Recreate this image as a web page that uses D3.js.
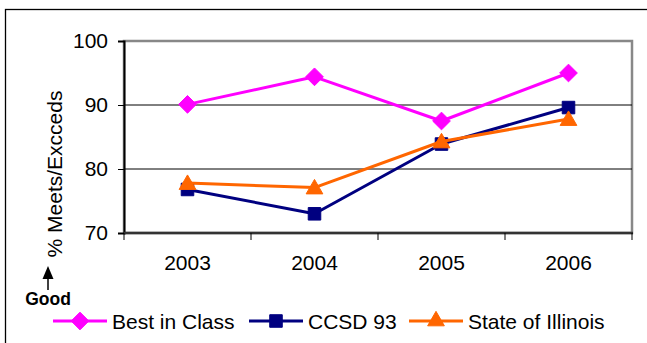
<!DOCTYPE html>
<html>
<head>
<meta charset="utf-8">
<script src="https://cdn.jsdelivr.net/npm/d3@7"></script>
<style>
  html, body { margin: 0; padding: 0; background: #fff; }
  svg { display: block; font-family: Arial, "Liberation Sans", sans-serif; }
</style>
</head>
<body>
<svg id="chart" width="647" height="343"></svg>
<script>
// Percentage of students who meet or exceed standards, by year
const years = ["2003", "2004", "2005", "2006"];
const bestInClass = [90.1, 94.4, 87.5, 95.0];
const ccsd93 = [76.8, 73.0, 83.9, 89.6];
const stateOfIllinois = [77.8, 77.1, 84.3, 87.8];
const yTicks = [70, 80, 90, 100];
const gridValues = [80, 90];

const series = [
  { name: "Best in Class", values: bestInClass, color: "#FF00FF", shape: "diamond" },
  { name: "CCSD 93", values: ccsd93, color: "#000080", shape: "square" },
  { name: "State of Illinois", values: stateOfIllinois, color: "#FF6600", shape: "triangle" }
];

const svg = d3.select("#chart");
const plot = { left: 124, right: 632, top: 41, bottom: 233 };

// outer frame
svg.append("rect")
  .attr("x", 5.5).attr("y", 9.5)
  .attr("width", 660).attr("height", 360)
  .attr("fill", "none").attr("stroke", "#000").attr("stroke-width", 1.3);

const x = d3.scaleBand().domain(years).range([plot.left, plot.right]);
const y = d3.scaleLinear().domain([70, 100]).range([plot.bottom, plot.top]);

// plot area border
svg.append("rect")
  .attr("x", plot.left).attr("y", plot.top)
  .attr("width", plot.right - plot.left).attr("height", plot.bottom - plot.top)
  .attr("fill", "#fff").attr("stroke", "#888").attr("stroke-width", 2.5);

// gridlines
svg.append("g").selectAll("line").data(gridValues).join("line")
  .attr("x1", plot.left).attr("x2", plot.right)
  .attr("y1", d => y(d)).attr("y2", d => y(d))
  .attr("stroke", "#000").attr("stroke-width", 1);

// y axis
const yAxis = svg.append("g")
  .attr("transform", `translate(${plot.left},0)`)
  .call(d3.axisLeft(y).tickValues(yTicks).tickSize(6).tickPadding(10));
yAxis.select(".domain").attr("stroke", "#000").attr("stroke-width", 2);
yAxis.selectAll(".tick line").attr("stroke", "#000").attr("stroke-width", 1);
yAxis.selectAll("text").attr("font-size", 21).attr("fill", "#000")
  .attr("font-family", "Arial, 'Liberation Sans', sans-serif");

// x axis: ticks on category boundaries
const xAxisG = svg.append("g").attr("transform", `translate(0,${plot.bottom})`);
xAxisG.append("line")
  .attr("x1", plot.left).attr("x2", plot.right + 1)
  .attr("stroke", "#333").attr("stroke-width", 2.5);
const boundaries = years.map(d => x(d)).concat([x(years[years.length - 1]) + x.bandwidth()]);
xAxisG.selectAll("line.tk").data(boundaries).join("line")
  .attr("class", "tk")
  .attr("x1", d => d).attr("x2", d => d)
  .attr("y1", 0).attr("y2", 7)
  .attr("stroke", "#000").attr("stroke-width", 1);
xAxisG.selectAll("text").data(years).join("text")
  .attr("x", d => x(d) + x.bandwidth() / 2)
  .attr("y", 37)
  .attr("text-anchor", "middle")
  .attr("font-size", 21).attr("fill", "#000")
  .text(d => d);

// y axis title
svg.append("text")
  .attr("transform", `translate(62,174) rotate(-90)`)
  .attr("text-anchor", "middle")
  .attr("font-size", 21).attr("fill", "#000")
  .text("% Meets/Excceds");

// "Good" direction marker
svg.append("line")
  .attr("x1", 48).attr("x2", 48).attr("y1", 276).attr("y2", 290)
  .attr("stroke", "#000").attr("stroke-width", 1.5);
svg.append("path")
  .attr("d", "M48,266 L42.5,279 L53.5,279 Z")
  .attr("fill", "#000");
svg.append("text")
  .attr("x", 48).attr("y", 305)
  .attr("text-anchor", "middle")
  .attr("font-size", 17.5).attr("font-weight", "bold").attr("fill", "#000")
  .text("Good");

function marker(sel, shape, color) {
  let sym;
  if (shape === "diamond") sym = d3.symbol(d3.symbolDiamond2, 200);
  else if (shape === "square") sym = d3.symbol(d3.symbolSquare2, 200);
  else sym = d3.symbol(d3.symbolTriangle2, 200);
  sel.append("path")
    .attr("d", sym)
    .attr("fill", color)
    .attr("stroke", color).attr("stroke-width", 1);
}

const line = d3.line()
  .x((d, i) => x(years[i]) + x.bandwidth() / 2)
  .y(d => y(d));

series.forEach(s => {
  const g = svg.append("g");
  g.append("path")
    .datum(s.values)
    .attr("d", line)
    .attr("fill", "none")
    .attr("stroke", s.color)
    .attr("stroke-width", 3)
    .attr("stroke-linejoin", "round");
  s.values.forEach((v, i) => {
    const m = g.append("g")
      .attr("transform", `translate(${x(years[i]) + x.bandwidth() / 2},${y(v) + (s.shape === "triangle" ? 1.5 : 0)})`);
    marker(m, s.shape, s.color);
  });
});

// legend
const legendItems = [
  { x1: 53, x2: 107, tx: 112 },
  { x1: 249, x2: 303, tx: 308 },
  { x1: 409, x2: 463, tx: 468 }
];
const legendY = 321;
series.forEach((s, i) => {
  const li = legendItems[i];
  const g = svg.append("g");
  g.append("line")
    .attr("x1", li.x1).attr("x2", li.x2)
    .attr("y1", legendY).attr("y2", legendY)
    .attr("stroke", s.color).attr("stroke-width", 3);
  const m = g.append("g")
    .attr("transform", `translate(${(li.x1 + li.x2) / 2},${legendY})`);
  marker(m, s.shape, s.color);
  g.append("text")
    .attr("x", li.tx).attr("y", legendY + 7.5)
    .attr("font-size", 21).attr("fill", "#000")
    .text(s.name);
});
</script>
</body>
</html>
